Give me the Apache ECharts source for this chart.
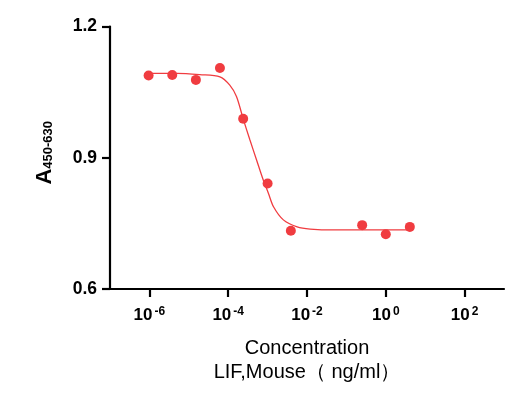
<!DOCTYPE html>
<html>
<head>
<meta charset="utf-8">
<script src="https://cdn.jsdelivr.net/npm/echarts@6/dist/echarts.min.js"></script>
<style>
  html, body { margin: 0; padding: 0; background: #fff; }
  #chart { width: 527px; height: 397px; }
</style>
</head>
<body>
<div id="chart"></div>
<script>
// log10 of concentration (ng/ml) and measured absorbance
const logConc = [-6.02, -5.42, -4.82, -4.21, -3.62, -3.0, -2.41, -0.6, 0.0, 0.61];
const absorbance = [1.088, 1.089, 1.078, 1.105, 0.989, 0.841, 0.733, 0.746, 0.725, 0.742];

// fitted curve
const fitLog = [-6.02, -5.3, -4.72, -4.21, -3.96, -3.79, -3.62, -3.45, -3.28, -3.11, -2.98, -2.85, -2.6, -2.25, -1.92, -1.3, -0.5, 0.61];
const fitAbs = [1.093, 1.093, 1.090, 1.085, 1.066, 1.040, 0.989, 0.941, 0.895, 0.849, 0.819, 0.788, 0.758, 0.742, 0.737, 0.735, 0.735, 0.735];

const xTicks = [-6, -4, -2, 0, 2];

const chart = echarts.init(document.getElementById('chart'));

const red = '#f03c40';
const font = '"Liberation Sans", Arial, sans-serif';

chart.setOption({
    animation: false,
    backgroundColor: '#fff',
    grid: { left: 110, right: 23, top: 26.5, bottom: 108 },
    xAxis: {
        type: 'value',
        min: -7,
        max: 3,
        name: 'Concentration\nLIF,Mouse（ ng/ml）',
        nameLocation: 'middle',
        nameGap: 47,
        nameTextStyle: { fontFamily: font, fontSize: 20, color: '#000', lineHeight: 24 },
        splitLine: { show: false },
        axisLine: { onZero: false, lineStyle: { color: '#000', width: 2.2 } },
        axisTick: { customValues: xTicks, length: 8, lineStyle: { color: '#000', width: 2.2 } },
        axisLabel: {
            customValues: xTicks,
            margin: 17,
            formatter: v => '{b|10}{s|' + (v < 0 ? '-' + Math.abs(v) : v) + '}',
            rich: {
                b: { fontFamily: font, fontSize: 17, fontWeight: 'bold', color: '#000' },
                s: { fontFamily: font, fontSize: 12, fontWeight: 'bold', color: '#000', padding: [0, 0, 7, 2] }
            }
        }
    },
    yAxis: {
        type: 'value',
        min: 0.6,
        max: 1.2,
        interval: 0.3,
        name: '{a|A}{b|450-630}',
        nameLocation: 'middle',
        nameGap: 54,
        nameRotate: 90,
        nameTextStyle: {
            rich: {
                a: { fontFamily: font, fontSize: 22, fontWeight: 'bold', color: '#000', padding: [0, 0, 0, 10] },
                b: { fontFamily: font, fontSize: 13, fontWeight: 'bold', color: '#000', padding: [6, 0, 0, 0] }
            }
        },
        splitLine: { show: false },
        axisLine: { show: true, onZero: false, lineStyle: { color: '#000', width: 2.2 } },
        axisTick: { show: true, length: 8, lineStyle: { color: '#000', width: 2.2 } },
        axisLabel: {
            margin: 13,
            fontFamily: font,
            fontSize: 17.5,
            fontWeight: 'bold',
            color: '#000',
            formatter: v => v.toFixed(1)
        }
    },
    series: [
        {
            type: 'line',
            data: fitLog.map((x, i) => [x, fitAbs[i]]),
            smooth: 0.3,
            showSymbol: false,
            lineStyle: { color: red, width: 1.3 },
            z: 2
        },
        {
            type: 'scatter',
            data: logConc.map((x, i) => [x, absorbance[i]]),
            symbolSize: 10,
            itemStyle: { color: red, opacity: 1 },
            z: 3
        }
    ]
});
</script>
</body>
</html>
